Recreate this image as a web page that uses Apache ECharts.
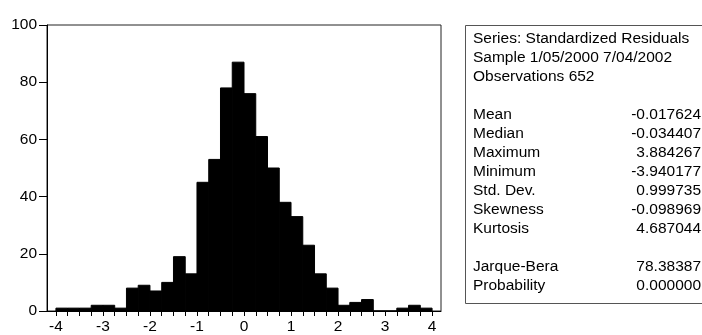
<!DOCTYPE html>
<html>
<head>
<meta charset="utf-8">
<script src="https://cdn.jsdelivr.net/npm/echarts@6/dist/echarts.min.js"></script>
<style>
html,body{margin:0;padding:0;background:#fff;}
#chart{width:702px;height:335px;}
</style>
</head>
<body>
<div id="chart"></div>
<script>
// Histogram bins (start of each bin, width 0.25) and counts
const binStarts = [-4, -3.75, -3.5, -3.25, -3, -2.75, -2.5, -2.25, -2, -1.75, -1.5, -1.25,
  -1, -0.75, -0.5, -0.25, 0, 0.25, 0.5, 0.75, 1, 1.25, 1.5, 1.75,
  2, 2.25, 2.5, 2.75, 3, 3.25, 3.5, 3.75];
const binWidth = 0.25;
const counts = [1, 1, 1, 2, 2, 1, 8, 9, 7, 10, 19, 13,
  45, 53, 78, 87, 76, 61, 50, 38, 33, 23, 13, 8,
  2, 3, 4, 0, 0, 1, 2, 1];
const xTickLabels = [-4, -3, -2, -1, 0, 1, 2, 3, 4];
const yTickLabels = [0, 20, 40, 60, 80, 100];

const headerLines = ['Series: Standardized Residuals', 'Sample 1/05/2000 7/04/2002', 'Observations 652'];
const statNames = ['Mean', 'Median', 'Maximum', 'Minimum', 'Std. Dev.', 'Skewness', 'Kurtosis'];
const statValues = ['-0.017624', '-0.034407', '3.884267', '-3.940177', '0.999735', '-0.098969', '4.687044'];
const testNames = ['Jarque-Bera', 'Probability'];
const testValues = ['78.38387', '0.000000'];

const FONT = 'Liberation Sans, Arial, sans-serif';
const minorTicks = binStarts.concat([binStarts[binStarts.length - 1] + binWidth]);
const histData = binStarts.map((s, i) => [s, s + binWidth, counts[i]]);

// stats box text
const graphics = [];
const boxLeft = 465, boxTop = 25, lineH = 19, firstY = 39, textX = 473, valX = 701;
graphics.push({type: 'rect', shape: {x: boxLeft + 0.5, y: boxTop + 0.5, width: 240, height: 278},
  style: {fill: 'none', stroke: '#555', lineWidth: 1}, silent: true});
function addText(txt, x, y, align) {
  graphics.push({type: 'text', x: x, y: y, silent: true,
    style: {text: txt, fill: '#000', font: '15.5px ' + FONT, textAlign: align, textVerticalAlign: 'middle'}});
}
headerLines.forEach((t, i) => addText(t, textX, firstY + i * lineH, 'left'));
statNames.forEach((t, i) => {
  addText(t, textX, firstY + (4 + i) * lineH, 'left');
  addText(statValues[i], valX, firstY + (4 + i) * lineH, 'right');
});
testNames.forEach((t, i) => {
  addText(t, textX, firstY + (12 + i) * lineH, 'left');
  addText(testValues[i], valX, firstY + (12 + i) * lineH, 'right');
});

const chart = echarts.init(document.getElementById('chart'), null, {renderer: 'canvas'});
chart.setOption({
  animation: false,
  backgroundColor: '#fff',
  grid: {left: 47, right: 261, top: 25, bottom: 22, show: true, borderColor: '#222', borderWidth: 1, backgroundColor: 'transparent'},
  xAxis: {
    type: 'value', min: -4.19, max: 4.19,
    axisLine: {show: true, onZero: false, lineStyle: {color: '#000', width: 1}},
    axisTick: {show: true, length: 5, customValues: minorTicks, lineStyle: {color: '#000'}},
    axisLabel: {customValues: xTickLabels, margin: 8, color: '#000', fontSize: 15.5, fontFamily: FONT, showMinLabel: true, showMaxLabel: true},
    splitLine: {show: false}
  },
  yAxis: {
    type: 'value', min: 0, max: 100, interval: 20,
    axisLine: {show: true, onZero: false, lineStyle: {color: '#000', width: 1}},
    axisTick: {show: true, length: 8, lineStyle: {color: '#000'}},
    axisLabel: {margin: 10, color: '#000', fontSize: 15.5, fontFamily: FONT, padding: [0, 0, 8, 0],
      formatter: v => (yTickLabels.indexOf(v) >= 0 ? String(v) : '')},
    splitLine: {show: false}
  },
  series: [{
    type: 'custom',
    data: histData,
    encode: {x: [0, 1], y: 2},
    renderItem: function (params, api) {
      const p0 = api.coord([api.value(0), api.value(2)]);
      const p1 = api.coord([api.value(1), 0]);
      return {type: 'rect', shape: {x: p0[0], y: p0[1], width: p1[0] - p0[0], height: p1[1] - p0[1]},
        style: {fill: '#000', stroke: '#000', lineWidth: 1}};
    }
  }],
  graphic: graphics
});
</script>
</body>
</html>
